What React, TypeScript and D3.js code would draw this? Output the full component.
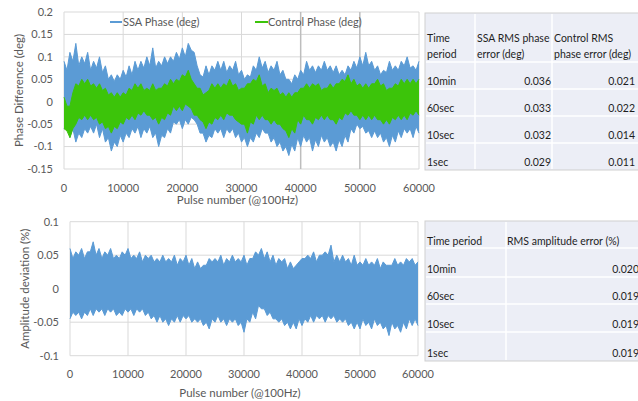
import React from 'react';
import * as d3 from 'd3';

// Envelope readings every 1000 pulses (0..60000), plus in-between readings at 500, 1500, ...
// Top chart (deg)
const ssaUpper = [0.09, 0.11, 0.13, 0.10, 0.11, 0.09, 0.10, 0.08, 0.06, 0.06, 0.07, 0.08, 0.09, 0.09, 0.10, 0.12, 0.09, 0.10, 0.10, 0.11, 0.12, 0.13, 0.11, 0.06, 0.08, 0.08, 0.09, 0.09, 0.08, 0.09, 0.07, 0.06, 0.08, 0.10, 0.09, 0.08, 0.09, 0.07, 0.05, 0.06, 0.07, 0.09, 0.08, 0.08, 0.09, 0.08, 0.08, 0.07, 0.08, 0.09, 0.10, 0.11, 0.09, 0.08, 0.07, 0.09, 0.08, 0.09, 0.10, 0.08, 0.09];
const ssaUpperMid = [0.07, 0.09, 0.08, 0.085, 0.07, 0.075, 0.065, 0.05, 0.045, 0.05, 0.055, 0.06, 0.07, 0.075, 0.08, 0.075, 0.08, 0.085, 0.09, 0.095, 0.10, 0.115, 0.08, 0.055, 0.06, 0.07, 0.07, 0.065, 0.07, 0.06, 0.05, 0.055, 0.07, 0.075, 0.065, 0.07, 0.06, 0.05, 0.04, 0.05, 0.06, 0.07, 0.065, 0.07, 0.07, 0.065, 0.06, 0.06, 0.07, 0.075, 0.08, 0.08, 0.07, 0.06, 0.065, 0.07, 0.07, 0.08, 0.075, 0.07];
const ssaLower = [-0.06, -0.08, -0.09, -0.08, -0.07, -0.07, -0.08, -0.09, -0.11, -0.10, -0.09, -0.08, -0.07, -0.08, -0.07, -0.08, -0.10, -0.08, -0.07, -0.05, -0.06, -0.05, -0.04, -0.07, -0.09, -0.08, -0.07, -0.08, -0.07, -0.08, -0.09, -0.10, -0.09, -0.08, -0.07, -0.09, -0.10, -0.11, -0.12, -0.11, -0.10, -0.09, -0.11, -0.10, -0.09, -0.10, -0.11, -0.10, -0.09, -0.07, -0.06, -0.07, -0.08, -0.08, -0.09, -0.10, -0.09, -0.08, -0.07, -0.08, -0.07];
const ssaLowerMid = [-0.045, -0.06, -0.07, -0.06, -0.055, -0.05, -0.06, -0.08, -0.09, -0.075, -0.07, -0.06, -0.055, -0.06, -0.055, -0.07, -0.075, -0.06, -0.045, -0.04, -0.04, -0.035, -0.05, -0.07, -0.075, -0.06, -0.06, -0.06, -0.06, -0.07, -0.08, -0.08, -0.07, -0.06, -0.07, -0.08, -0.09, -0.10, -0.095, -0.08, -0.075, -0.08, -0.085, -0.075, -0.08, -0.09, -0.085, -0.075, -0.06, -0.05, -0.055, -0.065, -0.065, -0.07, -0.08, -0.075, -0.065, -0.06, -0.06, -0.055];
const ctlUpper = [0.01, -0.01, 0.04, 0.05, 0.05, 0.04, 0.04, 0.03, 0.02, 0.02, 0.02, 0.03, 0.04, 0.04, 0.03, 0.04, 0.03, 0.04, 0.05, 0.05, 0.06, 0.07, 0.04, 0.03, 0.02, 0.04, 0.04, 0.04, 0.05, 0.04, 0.03, 0.04, 0.05, 0.06, 0.04, 0.03, 0.03, 0.02, 0.02, 0.02, 0.03, 0.04, 0.04, 0.04, 0.03, 0.04, 0.04, 0.05, 0.06, 0.05, 0.04, 0.04, 0.04, 0.05, 0.04, 0.03, 0.04, 0.05, 0.05, 0.05, 0.05];
const ctlUpperMid = [-0.01, 0.02, 0.035, 0.04, 0.035, 0.03, 0.025, 0.015, 0.01, 0.01, 0.015, 0.025, 0.03, 0.025, 0.025, 0.025, 0.03, 0.035, 0.04, 0.045, 0.055, 0.05, 0.03, 0.015, 0.025, 0.03, 0.03, 0.035, 0.035, 0.025, 0.03, 0.04, 0.045, 0.035, 0.02, 0.025, 0.015, 0.01, 0.01, 0.02, 0.03, 0.03, 0.035, 0.025, 0.03, 0.03, 0.04, 0.045, 0.04, 0.035, 0.03, 0.03, 0.04, 0.035, 0.025, 0.03, 0.035, 0.04, 0.04, 0.04];
const ctlLower = [-0.06, -0.08, -0.05, -0.04, -0.04, -0.04, -0.05, -0.06, -0.07, -0.06, -0.05, -0.04, -0.04, -0.03, -0.03, -0.04, -0.05, -0.04, -0.03, -0.02, -0.02, -0.01, -0.03, -0.04, -0.06, -0.05, -0.04, -0.04, -0.03, -0.04, -0.05, -0.07, -0.05, -0.04, -0.04, -0.05, -0.05, -0.06, -0.08, -0.07, -0.05, -0.04, -0.05, -0.04, -0.04, -0.04, -0.05, -0.04, -0.03, -0.03, -0.04, -0.04, -0.04, -0.04, -0.05, -0.05, -0.04, -0.04, -0.04, -0.03, -0.03];
const ctlLowerMid = [-0.065, -0.06, -0.035, -0.03, -0.03, -0.035, -0.045, -0.055, -0.055, -0.045, -0.035, -0.03, -0.025, -0.02, -0.03, -0.035, -0.035, -0.025, -0.01, -0.01, -0.005, -0.015, -0.03, -0.045, -0.045, -0.035, -0.03, -0.025, -0.03, -0.045, -0.05, -0.045, -0.03, -0.03, -0.04, -0.04, -0.05, -0.065, -0.06, -0.04, -0.03, -0.04, -0.035, -0.03, -0.03, -0.04, -0.035, -0.025, -0.02, -0.03, -0.03, -0.03, -0.03, -0.04, -0.04, -0.035, -0.03, -0.03, -0.025, -0.02];

// Bottom chart (%)
const ampUpper = [0.06, 0.055, 0.06, 0.055, 0.07, 0.06, 0.055, 0.06, 0.05, 0.055, 0.06, 0.05, 0.055, 0.05, 0.05, 0.045, 0.05, 0.045, 0.05, 0.045, 0.05, 0.045, 0.04, 0.035, 0.045, 0.045, 0.05, 0.045, 0.05, 0.045, 0.05, 0.045, 0.055, 0.06, 0.055, 0.05, 0.045, 0.045, 0.04, 0.035, 0.045, 0.05, 0.055, 0.05, 0.055, 0.065, 0.05, 0.05, 0.045, 0.05, 0.04, 0.045, 0.04, 0.045, 0.04, 0.035, 0.045, 0.04, 0.045, 0.045, 0.04];
const ampUpperMid = [0.045, 0.05, 0.045, 0.055, 0.05, 0.045, 0.05, 0.045, 0.045, 0.05, 0.045, 0.045, 0.04, 0.045, 0.04, 0.04, 0.04, 0.04, 0.035, 0.04, 0.035, 0.03, 0.03, 0.035, 0.04, 0.04, 0.035, 0.04, 0.04, 0.04, 0.035, 0.045, 0.05, 0.045, 0.04, 0.035, 0.04, 0.03, 0.03, 0.04, 0.045, 0.045, 0.04, 0.05, 0.05, 0.04, 0.04, 0.04, 0.035, 0.035, 0.035, 0.035, 0.035, 0.03, 0.035, 0.035, 0.035, 0.035, 0.04, 0.035];
const ampLower = [-0.045, -0.04, -0.045, -0.04, -0.04, -0.035, -0.04, -0.035, -0.04, -0.04, -0.035, -0.04, -0.035, -0.04, -0.045, -0.05, -0.05, -0.055, -0.05, -0.05, -0.045, -0.05, -0.05, -0.055, -0.06, -0.05, -0.05, -0.055, -0.05, -0.055, -0.065, -0.05, -0.045, -0.03, -0.04, -0.045, -0.05, -0.055, -0.06, -0.06, -0.055, -0.05, -0.05, -0.045, -0.05, -0.045, -0.05, -0.05, -0.055, -0.06, -0.06, -0.055, -0.06, -0.055, -0.06, -0.07, -0.06, -0.065, -0.06, -0.055, -0.055];
const ampLowerMid = [-0.035, -0.035, -0.035, -0.03, -0.03, -0.03, -0.03, -0.03, -0.035, -0.03, -0.03, -0.03, -0.03, -0.035, -0.04, -0.04, -0.045, -0.045, -0.04, -0.04, -0.04, -0.045, -0.045, -0.05, -0.045, -0.04, -0.045, -0.045, -0.045, -0.05, -0.045, -0.035, -0.025, -0.03, -0.035, -0.045, -0.045, -0.05, -0.05, -0.045, -0.045, -0.04, -0.04, -0.04, -0.04, -0.04, -0.045, -0.045, -0.05, -0.05, -0.045, -0.05, -0.045, -0.05, -0.055, -0.05, -0.055, -0.05, -0.045, -0.045];

const xTicks = [0, 10000, 20000, 30000, 40000, 50000, 60000];
const yTicksTop = [0.2, 0.15, 0.1, 0.05, 0, -0.05, -0.1, -0.15];
const yTicksBot = [0.1, 0.05, 0, -0.05, -0.1];

const seriesNames = ['SSA Phase (deg)', 'Control Phase (deg)'];

const phaseHeader = [['Time', 'period'], ['SSA RMS phase', 'error (deg)'], ['Control RMS', 'phase error (deg)']];
const periods = ['10min', '60sec', '10sec', '1sec'];
const ssaRms = ['0.036', '0.033', '0.032', '0.029'];
const ctlRms = ['0.021', '0.022', '0.014', '0.011'];
const ampHeader = ['Time period', 'RMS amplitude error (%)'];
const ampRms = ['0.020', '0.019', '0.019', '0.019'];

const BLUE = '#5b9bd5';
const GREEN = '#3cc40a';
const GRID = '#d9d9d9';
const TXT = '#595959';
const FONT = 'Lato, "Open Sans", sans-serif';

const fmt = (v: number) => String(+v.toFixed(2));

// Combine the 1000-step readings with the in-between readings into a (pulse, value) table
function table(main: number[], mid: number[]) {
  const rows: { p: number; v: number }[] = [];
  main.forEach((v, i) => {
    rows.push({ p: i * 1000, v });
    if (i < mid.length) rows.push({ p: i * 1000 + 500, v: mid[i] });
  });
  return rows;
}

function Band({ x, y, up, lo, color }: any) {
  const data = up.map((d: any, i: number) => ({ p: d.p, hi: d.v, lo: lo[i].v }));
  const area = d3.area<any>().x((d) => x(d.p)).y0((d) => y(d.lo)).y1((d) => y(d.hi));
  const lineU = d3.line<any>().x((d) => x(d.p)).y((d) => y(d.hi));
  const lineL = d3.line<any>().x((d) => x(d.p)).y((d) => y(d.lo));
  return (
    <g>
      <path d={area(data) || ''} fill={color} />
      <path d={lineU(data) || ''} fill="none" stroke={color} strokeWidth={1} />
      <path d={lineL(data) || ''} fill="none" stroke={color} strokeWidth={1} />
    </g>
  );
}

function Grid({ x, y, yTicks, dark }: any) {
  const [x0, x1] = x.range();
  const [y0, y1] = y.range();
  return (
    <g>
      {yTicks.map((t: number) => (
        <line key={'h' + t} x1={x0} x2={x1} y1={y(t)} y2={y(t)} stroke={GRID} strokeWidth={1} />
      ))}
      {xTicks.map((t: number) => {
        const dk = dark && (t === 40000 || t === 50000);
        return (
          <line key={'v' + t} x1={x(t)} x2={x(t)} y1={y0} y2={y1}
            stroke={dk ? '#bdbdbd' : GRID} strokeWidth={dk ? 1.5 : 1} />
        );
      })}
    </g>
  );
}

function Labels({ x, y, yTicks, labelX, xLabelY, titleY, yTitleX, yTitle }: any) {
  const [y0, y1] = y.range();
  const [x0, x1] = x.range();
  return (
    <g fill={TXT} fontFamily={FONT}>
      {yTicks.map((t: number) => (
        <text key={'yl' + t} x={labelX} y={y(t)} dy="0.35em" textAnchor="end" fontSize={11}>{fmt(t)}</text>
      ))}
      {xTicks.map((t: number) => (
        <text key={'xl' + t} x={x(t)} y={xLabelY} textAnchor="middle" fontSize={11}>{t}</text>
      ))}
      <text x={(x0 + x1) / 2 - 4} y={titleY} textAnchor="middle" fontSize={11.5}>Pulse number (@100Hz)</text>
      <text transform={`translate(${yTitleX},${(y0 + y1) / 2}) rotate(-90)`} textAnchor="middle" fontSize={11.5}>{yTitle}</text>
    </g>
  );
}

export default function App() {
  const xTop = d3.scaleLinear().domain([0, 60000]).range([64, 419]);
  const yTop = d3.scaleLinear().domain([-0.15, 0.2]).range([169, 12]);
  const xBot = d3.scaleLinear().domain([0, 60000]).range([70, 418]);
  const yBot = d3.scaleLinear().domain([-0.1, 0.1]).range([355.7, 221.7]);

  const t1x = [425, 475, 552, 640];
  const t1y = [13, 62, 89, 116, 143, 170];
  const t2x = [425, 506, 640];
  const t2y = [221, 248, 277, 304, 332, 361];

  return (
    <svg width={638} height={401} style={{ position: 'absolute', left: 0, top: 0, background: '#fff' }}>
      {/* Top chart */}
      <Grid x={xTop} y={yTop} yTicks={yTicksTop} dark />
      <Band x={xTop} y={yTop} up={table(ssaUpper, ssaUpperMid)} lo={table(ssaLower, ssaLowerMid)} color={BLUE} />
      <Band x={xTop} y={yTop} up={table(ctlUpper, ctlUpperMid)} lo={table(ctlLower, ctlLowerMid)} color={GREEN} />
      <Labels x={xTop} y={yTop} yTicks={yTicksTop} labelX={53} xLabelY={192} titleY={204} yTitleX={23} yTitle="Phase Difference (deg)" />
      <g fontFamily={FONT} fontSize={11} fill={TXT}>
        <line x1={110} x2={122} y1={22} y2={22} stroke={BLUE} strokeWidth={2} />
        <text x={123} y={22} dy="0.35em">{seriesNames[0]}</text>
        <line x1={255} x2={268} y1={22} y2={22} stroke={GREEN} strokeWidth={2} />
        <text x={268} y={22} dy="0.35em">{seriesNames[1]}</text>
      </g>

      {/* Bottom chart */}
      <Grid x={xBot} y={yBot} yTicks={yTicksBot} />
      <Band x={xBot} y={yBot} up={table(ampUpper, ampUpperMid)} lo={table(ampLower, ampLowerMid)} color={BLUE} />
      <Labels x={xBot} y={yBot} yTicks={yTicksBot} labelX={59} xLabelY={378} titleY={397} yTitleX={29} yTitle="Amplitude deviation (%)" />

      {/* Top table */}
      <g fontFamily={FONT} fontSize={10.5} fill="#1e1e1e">
        <rect x={t1x[0]} y={t1y[0]} width={t1x[3] - t1x[0]} height={t1y[5] - t1y[0]} fill="#eceef6" stroke="#cfcfcf" />
        {t1x.slice(1, 3).map((v) => (
          <line key={'c' + v} x1={v} x2={v} y1={t1y[0] + 1} y2={t1y[5] - 1} stroke="#fff" strokeWidth={1.5} />
        ))}
        {t1y.slice(1, 5).map((v) => (
          <line key={'r' + v} x1={t1x[0] + 1} x2={638} y1={v} y2={v} stroke="#fff" strokeWidth={1.5} />
        ))}
        {phaseHeader.map((lines, c) => (
          <text key={'h' + c} x={t1x[c] + 2}>
            <tspan x={t1x[c] + 2} y={42}>{lines[0]}</tspan>
            <tspan x={t1x[c] + 2} y={58}>{lines[1]}</tspan>
          </text>
        ))}
        {periods.map((p, r) => (
          <g key={'row' + r}>
            <text x={t1x[0] + 2} y={t1y[r + 2] - 4}>{p}</text>
            <text x={t1x[2] - 1} y={t1y[r + 2] - 4} textAnchor="end">{ssaRms[r]}</text>
            <text x={635} y={t1y[r + 2] - 4} textAnchor="end">{ctlRms[r]}</text>
          </g>
        ))}
      </g>

      {/* Bottom table */}
      <g fontFamily={FONT} fontSize={10.5} fill="#1e1e1e">
        <rect x={t2x[0]} y={t2y[0]} width={t2x[2] - t2x[0]} height={t2y[5] - t2y[0]} fill="#eceef6" stroke="#cfcfcf" />
        <line x1={t2x[1]} x2={t2x[1]} y1={t2y[0] + 1} y2={t2y[5] - 1} stroke="#fff" strokeWidth={1.5} />
        {t2y.slice(1, 5).map((v) => (
          <line key={'r2' + v} x1={t2x[0] + 1} x2={638} y1={v} y2={v} stroke="#fff" strokeWidth={1.5} />
        ))}
        <text x={t2x[0] + 2} y={t2y[1] - 3}>{ampHeader[0]}</text>
        <text x={t2x[1] + 1} y={t2y[1] - 3}>{ampHeader[1]}</text>
        {periods.map((p, r) => (
          <g key={'row2' + r}>
            <text x={t2x[0] + 2} y={t2y[r + 2] - 4}>{p}</text>
            <text x={639} y={t2y[r + 2] - 4} textAnchor="end">{ampRms[r]}</text>
          </g>
        ))}
      </g>
    </svg>
  );
}
